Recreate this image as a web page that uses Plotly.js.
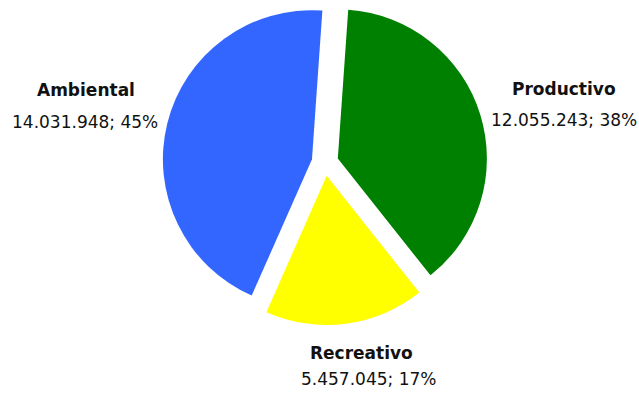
<!DOCTYPE html>
<html>
<head>
<meta charset="utf-8">
<script src="https://cdn.plot.ly/plotly-3.0.1.min.js"></script>
<style>
  html, body { margin: 0; padding: 0; background: #ffffff; }
  #chart { width: 639px; height: 399px; }
</style>
</head>
<body>
<div id="chart"></div>
<script>
// ---- data ----
const categories = ["Productivo", "Recreativo", "Ambiental"];
const values = [12055243, 5457045, 14031948];
const percentLabels = ["38%", "17%", "45%"];

// ---- styles / positions (not data) ----
const sliceColors = ["#008000", "#FFFF00", "#3366FF"];
// label block centres in pixels: [x, nameY, valueY, valueX]
const labelPos = [
  [564, 89, 120.5, 563.5],
  [361.5, 353, 379, 368.5],
  [86, 90, 122, 85.5]
];

const W = 639, H = 399;
function fmt(n) { return String(n).replace(/\B(?=(\d{3})+(?!\d))/g, "."); }

const trace = {
  type: "pie",
  labels: categories,
  values: values,
  sort: false,
  direction: "clockwise",
  rotation: 4,
  pull: [0.09, 0.09, 0.09],
  textinfo: "none",
  hoverinfo: "none",
  showlegend: false,
  marker: { colors: sliceColors, line: { width: 0 } },
  domain: { x: [162.5 / W, 487.5 / W], y: [74 / H, 1] }
};

const annotations = [];
categories.forEach((c, i) => {
  const p = labelPos[i];
  annotations.push({
    xref: "paper", yref: "paper",
    x: p[0] / W, y: 1 - p[1] / H,
    xanchor: "center", yanchor: "middle",
    text: "<b>" + c + "</b>",
    showarrow: false,
    font: { family: "DejaVu Sans, Verdana, sans-serif", size: 17, color: "#111111" }
  });
  annotations.push({
    xref: "paper", yref: "paper",
    x: p[3] / W, y: 1 - p[2] / H,
    xanchor: "center", yanchor: "middle",
    text: fmt(values[i]) + "; " + percentLabels[i],
    showarrow: false,
    font: { family: "DejaVu Sans, Verdana, sans-serif", size: 17, color: "#111111" }
  });
});

const layout = {
  width: W, height: H,
  margin: { l: 0, r: 0, t: 0, b: 0 },
  paper_bgcolor: "#ffffff",
  plot_bgcolor: "#ffffff",
  annotations: annotations
};

Plotly.newPlot("chart", [trace], layout, { displayModeBar: false, staticPlot: true });
</script>
</body>
</html>
